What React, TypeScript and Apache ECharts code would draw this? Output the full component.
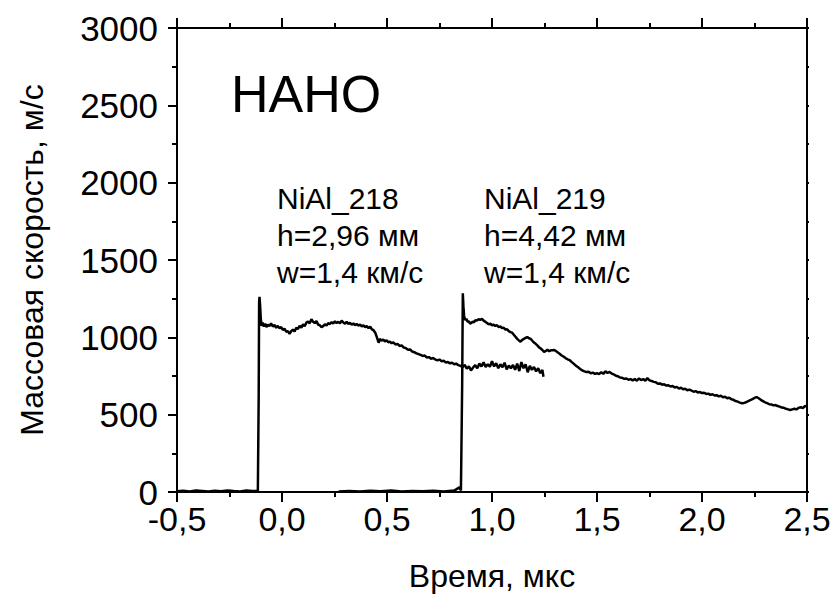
import React, { useEffect, useRef } from "react";
import * as echarts from "echarts";

const FONT = "Liberation Sans, Arial, sans-serif";

const xTicks = [-0.5, 0, 0.5, 1, 1.5, 2, 2.5];
const yTicks = [0, 500, 1000, 1500, 2000, 2500, 3000];

const titleText = "НАНО";
const label218 = ["NiAl_218", "h=2,96 мм", "w=1,4 км/с"];
const label219 = ["NiAl_219", "h=4,42 мм", "w=1,4 км/с"];
const xName = "Время, мкс";
const yName = "Массовая скорость, м/с";

const nial218: [number, number][] = [
  [-0.5, 5], [-0.47, 8], [-0.44, 4], [-0.41, 9], [-0.38, 6], [-0.35, 3], [-0.32, 8], [-0.29, 5],
  [-0.26, 10], [-0.23, 6], [-0.2, 4], [-0.17, 9], [-0.14, 7], [-0.115, 6],
  [-0.111, 620], [-0.109, 1230], [-0.107, 1262], [-0.104, 1200], [-0.101, 1120], [-0.097, 1075],
  [-0.092, 1095], [-0.086, 1070], [-0.08, 1088], [-0.074, 1066], [-0.068, 1082], [-0.06, 1072],
  [-0.052, 1090], [-0.044, 1070], [-0.036, 1080], [-0.028, 1062], [-0.02, 1074], [-0.012, 1058],
  [-0.004, 1066], [0.004, 1048], [0.012, 1056], [0.02, 1036], [0.028, 1040], [0.036, 1022],
  [0.044, 1040], [0.052, 1050], [0.06, 1038], [0.068, 1062], [0.076, 1054], [0.084, 1075],
  [0.092, 1062], [0.1, 1084], [0.108, 1072], [0.116, 1095], [0.124, 1102], [0.132, 1090],
  [0.14, 1118], [0.148, 1100], [0.156, 1092], [0.164, 1105], [0.172, 1082], [0.18, 1078],
  [0.188, 1066], [0.196, 1072], [0.204, 1084], [0.212, 1076], [0.22, 1092], [0.228, 1086],
  [0.236, 1098], [0.244, 1090], [0.252, 1104], [0.26, 1092], [0.268, 1100], [0.276, 1090],
  [0.284, 1108], [0.292, 1096], [0.3, 1088], [0.308, 1100], [0.316, 1086], [0.324, 1094],
  [0.332, 1082], [0.34, 1090], [0.348, 1078], [0.356, 1086], [0.364, 1076], [0.372, 1082],
  [0.38, 1070], [0.388, 1078], [0.396, 1066], [0.404, 1072], [0.412, 1060], [0.42, 1068],
  [0.428, 1052], [0.436, 1046], [0.444, 1030], [0.452, 1000], [0.46, 965], [0.466, 990],
  [0.474, 978], [0.482, 986], [0.49, 974], [0.498, 980], [0.506, 968], [0.514, 972],
  [0.522, 962], [0.53, 968], [0.54, 954], [0.55, 958], [0.56, 944], [0.57, 948], [0.58, 934],
  [0.59, 930], [0.6, 920], [0.61, 922], [0.62, 908], [0.63, 904], [0.64, 896], [0.65, 892],
  [0.66, 886], [0.67, 880], [0.68, 882], [0.69, 870], [0.7, 872], [0.71, 862], [0.72, 866],
  [0.73, 856], [0.74, 852], [0.75, 856], [0.76, 846], [0.77, 848], [0.78, 838], [0.79, 840],
  [0.8, 832], [0.81, 836], [0.82, 826], [0.83, 830], [0.84, 820], [0.85, 815], [0.86, 808],
  [0.87, 822], [0.88, 798], [0.89, 812], [0.9, 786], [0.91, 805], [0.92, 820], [0.93, 800],
  [0.94, 830], [0.95, 812], [0.96, 838], [0.97, 808], [0.98, 826], [0.99, 810], [1.0, 845],
  [1.01, 812], [1.02, 832], [1.03, 800], [1.04, 826], [1.05, 806], [1.06, 836], [1.07, 792],
  [1.08, 818], [1.09, 800], [1.1, 822], [1.11, 790], [1.12, 830], [1.13, 782], [1.14, 840],
  [1.15, 800], [1.16, 826], [1.17, 774], [1.18, 816], [1.19, 790], [1.2, 808], [1.21, 780],
  [1.22, 800], [1.23, 768], [1.24, 790], [1.245, 745],
];

const nial219: [number, number][] = [
  [0.27, 4], [0.32, 7], [0.37, 3], [0.42, 8], [0.47, 5], [0.52, 9], [0.57, 4], [0.62, 7],
  [0.67, 5], [0.72, 8], [0.77, 4], [0.82, 9], [0.845, 30], [0.852, 10],
  [0.858, 700], [0.861, 1285], [0.864, 1200], [0.867, 1140], [0.872, 1112], [0.878, 1120],
  [0.884, 1100], [0.89, 1104], [0.896, 1088], [0.902, 1094], [0.908, 1102], [0.914, 1096],
  [0.92, 1110], [0.928, 1108], [0.936, 1118], [0.944, 1112], [0.952, 1120], [0.96, 1108],
  [0.968, 1100], [0.976, 1092], [0.984, 1084], [0.992, 1088], [1.0, 1078], [1.008, 1082],
  [1.016, 1074], [1.024, 1078], [1.032, 1066], [1.04, 1070], [1.048, 1060], [1.056, 1062],
  [1.064, 1050], [1.072, 1052], [1.08, 1040], [1.088, 1034], [1.096, 1030], [1.104, 1016],
  [1.112, 1004], [1.12, 990], [1.128, 980], [1.136, 972], [1.144, 984], [1.152, 990],
  [1.16, 996], [1.168, 1002], [1.176, 994], [1.184, 990], [1.192, 978], [1.2, 966],
  [1.208, 958], [1.216, 948], [1.224, 935], [1.232, 928], [1.24, 918], [1.248, 905],
  [1.256, 912], [1.264, 920], [1.272, 910], [1.28, 916], [1.288, 916], [1.296, 918],
  [1.304, 912], [1.312, 904], [1.32, 896], [1.33, 884], [1.34, 876], [1.35, 866], [1.36, 858],
  [1.37, 852], [1.38, 840], [1.39, 828], [1.4, 816], [1.41, 806], [1.42, 796], [1.43, 786],
  [1.44, 780], [1.45, 776], [1.46, 778], [1.47, 768], [1.48, 772], [1.49, 764], [1.5, 768],
  [1.51, 762], [1.52, 774], [1.53, 764], [1.54, 780], [1.55, 770], [1.56, 776], [1.57, 766],
  [1.58, 760], [1.59, 752], [1.6, 748], [1.61, 740], [1.62, 738], [1.63, 732], [1.64, 734],
  [1.65, 726], [1.66, 730], [1.67, 722], [1.68, 730], [1.69, 720], [1.7, 734], [1.71, 724],
  [1.72, 730], [1.73, 720], [1.74, 736], [1.75, 722], [1.76, 718], [1.77, 712], [1.78, 710],
  [1.79, 700], [1.8, 702], [1.81, 694], [1.82, 696], [1.83, 688], [1.84, 690], [1.85, 682],
  [1.86, 686], [1.87, 676], [1.88, 680], [1.89, 668], [1.9, 674], [1.91, 664], [1.92, 668],
  [1.93, 658], [1.94, 662], [1.95, 656], [1.96, 648], [1.97, 652], [1.98, 644], [1.99, 646],
  [2.0, 640], [2.01, 642], [2.02, 634], [2.03, 636], [2.04, 628], [2.05, 632], [2.06, 624],
  [2.07, 626], [2.08, 618], [2.09, 622], [2.1, 612], [2.11, 616], [2.12, 606], [2.13, 610],
  [2.14, 600], [2.15, 596], [2.16, 588], [2.17, 584], [2.18, 578], [2.19, 574], [2.2, 576],
  [2.21, 580], [2.22, 588], [2.23, 594], [2.24, 600], [2.25, 608], [2.26, 614], [2.27, 606],
  [2.28, 596], [2.29, 588], [2.3, 580], [2.31, 574], [2.32, 568], [2.33, 566], [2.34, 560],
  [2.35, 562], [2.36, 556], [2.37, 552], [2.38, 546], [2.39, 544], [2.4, 538], [2.41, 534],
  [2.42, 530], [2.43, 534], [2.44, 538], [2.45, 534], [2.46, 544], [2.47, 548], [2.48, 542],
  [2.49, 556], [2.5, 552],
];

const fmtX = (v: number) => v.toFixed(1).replace(".", ",");
const fmtY = (v: number) => String(Math.round(v));

export default function App() {
  const ref = useRef<HTMLDivElement>(null);
  useEffect(() => {
    if (!ref.current) return;
    const chart = echarts.init(ref.current, null, { renderer: "svg" });
    const line = { color: "#000", width: 2 };
    chart.setOption({
      animation: false,
      backgroundColor: "#fff",
      grid: { left: 177, right: 32, top: 28, bottom: 111, containLabel: false },
      xAxis: [
        {
          type: "value",
          position: "bottom",
          min: xTicks[0],
          max: xTicks[xTicks.length - 1],
          interval: 0.5,
          name: xName,
          nameLocation: "middle",
          nameGap: 68,
          nameTextStyle: { color: "#000", fontFamily: FONT, fontSize: 32 },
          axisLine: { show: true, onZero: false, lineStyle: line },
          axisTick: { show: true, inside: false, length: 10, lineStyle: line },
          minorTick: { show: true, splitNumber: 2, length: 5, lineStyle: line },
          splitLine: { show: false },
          minorSplitLine: { show: false },
          axisLabel: {
            color: "#000",
            fontFamily: FONT,
            fontSize: 34,
            lineHeight: 28,
            margin: 13,
            formatter: fmtX,
          },
        },
        {
          type: "value",
          position: "top",
          min: xTicks[0],
          max: xTicks[xTicks.length - 1],
          interval: 0.5,
          axisLine: { show: true, onZero: false, lineStyle: line },
          axisTick: { show: true, inside: false, length: 10, lineStyle: line },
          minorTick: { show: true, splitNumber: 2, length: 5, lineStyle: line },
          splitLine: { show: false },
          axisLabel: { show: false },
        },
      ],
      yAxis: [
        {
          type: "value",
          position: "left",
          min: yTicks[0],
          max: yTicks[yTicks.length - 1],
          interval: 500,
          name: yName,
          nameLocation: "middle",
          nameGap: 129,
          nameRotate: 90,
          nameTextStyle: { color: "#000", fontFamily: FONT, fontSize: 32 },
          axisLine: { show: true, onZero: false, lineStyle: line },
          axisTick: { show: true, inside: false, length: 9, lineStyle: line },
          minorTick: { show: true, splitNumber: 2, length: 5, lineStyle: line },
          splitLine: { show: false },
          minorSplitLine: { show: false },
          axisLabel: {
            color: "#000",
            fontFamily: FONT,
            fontSize: 35,
            lineHeight: 24,
            margin: 19,
            formatter: fmtY,
          },
        },
        {
          type: "value",
          position: "right",
          min: yTicks[0],
          max: yTicks[yTicks.length - 1],
          interval: 500,
          axisLine: { show: true, onZero: false, lineStyle: line },
          axisTick: { show: true, inside: false, length: 2, lineStyle: line },
          minorTick: { show: true, splitNumber: 2, length: 2, lineStyle: line },
          splitLine: { show: false },
          axisLabel: { show: false },
        },
      ],
      series: [
        {
          name: "NiAl_218",
          type: "line",
          xAxisIndex: 0,
          yAxisIndex: 0,
          data: nial218,
          showSymbol: false,
          lineStyle: { color: "#000", width: 2.5 },
        },
        {
          name: "NiAl_219",
          type: "line",
          xAxisIndex: 0,
          yAxisIndex: 0,
          data: nial219,
          showSymbol: false,
          lineStyle: { color: "#000", width: 2.5 },
        },
      ],
      graphic: [
        {
          type: "text",
          left: 231,
          top: 68,
          style: { text: titleText, fill: "#000", font: `52px ${FONT}` },
        },
        {
          type: "text",
          left: 277,
          top: 180,
          style: { text: label218.join("\n"), fill: "#000", font: `30px ${FONT}`, lineHeight: 37 },
        },
        {
          type: "text",
          left: 484,
          top: 180,
          style: { text: label219.join("\n"), fill: "#000", font: `30px ${FONT}`, lineHeight: 37 },
        },
      ],
    });
    return () => chart.dispose();
  }, []);
  return (
    <div
      ref={ref}
      style={{ position: "fixed", left: 0, top: 0, width: 839, height: 603, background: "#fff" }}
    />
  );
}
